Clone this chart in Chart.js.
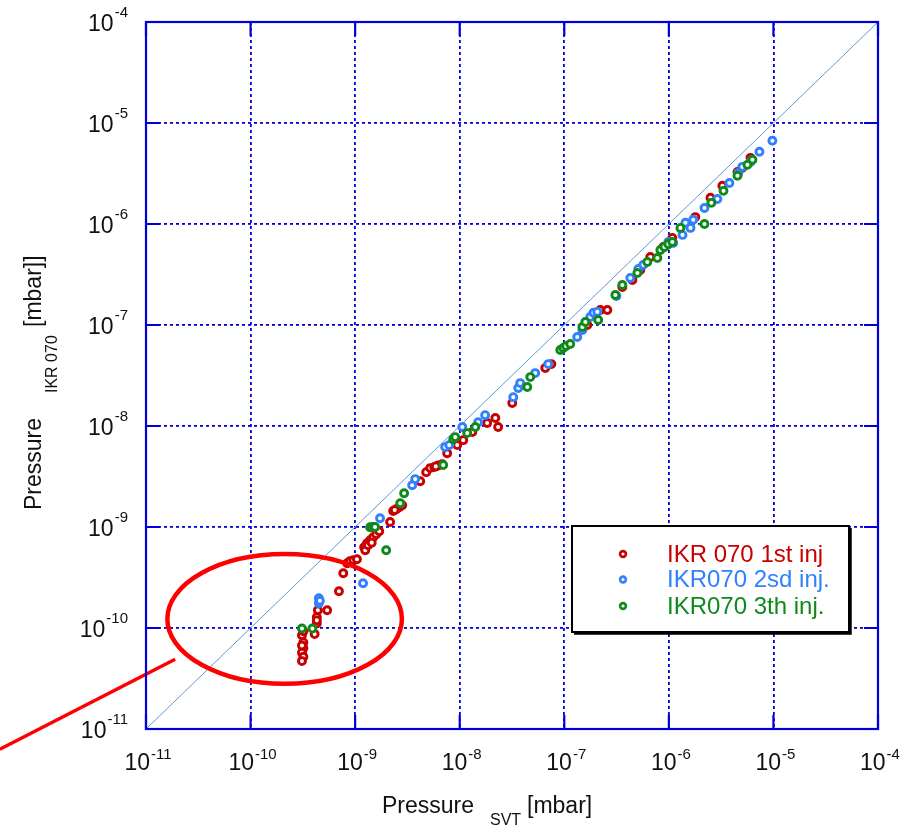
<!DOCTYPE html>
<html>
<head>
<meta charset="utf-8">
<script src="https://cdn.jsdelivr.net/npm/chart.js@4/dist/chart.umd.min.js"></script>
<style>
  html, body { margin: 0; padding: 0; background: #fff; }
  canvas { display: block; }
</style>
</head>
<body>
<canvas id="chart" width="917" height="826"></canvas>
<script>
// decade ticks on both axes
const decades = [1e-11, 1e-10, 1e-9, 1e-8, 1e-7, 1e-6, 1e-5, 1e-4];
const tickExponents = ['-11', '-10', '-9', '-8', '-7', '-6', '-5', '-4'];

// IKR 070 1st inj
const inj1X = [3.1e-10, 3.2e-10, 3.2e-10, 3.1e-10, 3.2e-10, 3.1e-10, 4.1e-10, 4.3e-10, 4.3e-10, 4.4e-10,
  5.4e-10, 7.0e-10, 7.7e-10, 8.4e-10, 8.9e-10, 9.6e-10, 1.04e-9, 1.22e-9, 1.25e-9, 1.30e-9,
  1.39e-9, 1.49e-9, 1.59e-9, 1.70e-9, 2.16e-9, 2.31e-9, 2.47e-9, 2.64e-9, 2.82e-9, 4.19e-9,
  4.78e-9, 5.22e-9, 5.70e-9, 6.22e-9, 6.80e-9, 7.59e-9, 9.46e-9, 1.08e-8, 1.32e-8, 1.83e-8,
  2.19e-8, 2.33e-8, 3.18e-8, 6.58e-8, 7.52e-8, 1.66e-7, 2.21e-7, 2.58e-7, 3.59e-7, 4.48e-7,
  5.33e-7, 6.65e-7, 8.85e-7, 1.08e-6, 1.79e-6, 2.50e-6, 3.25e-6, 4.53e-6, 5.05e-6, 6.03e-6,
  3.2e-10, 3.1e-10, 1.33e-9, 1.44e-9, 2.39e-9, 5.9e-9, 4.3e-10];
const inj1Y = [8.5e-11, 7.2e-11, 6.3e-11, 5.7e-11, 5.2e-11, 4.7e-11, 8.7e-11, 1.11e-10, 1.28e-10, 1.50e-10,
  1.50e-10, 2.31e-10, 3.48e-10, 4.38e-10, 4.58e-10, 4.69e-10, 4.80e-10, 6.31e-10, 5.89e-10, 6.90e-10,
  7.40e-10, 7.93e-10, 8.49e-10, 9.08e-10, 1.12e-9, 1.44e-9, 1.50e-9, 1.57e-9, 1.64e-9, 2.84e-9,
  3.49e-9, 3.83e-9, 3.92e-9, 4.06e-9, 4.19e-9, 5.38e-9, 6.47e-9, 7.24e-9, 8.71e-9, 1.07e-8,
  1.20e-8, 9.76e-9, 1.69e-8, 3.75e-8, 4.10e-8, 1.00e-7, 1.41e-7, 1.41e-7, 2.38e-7, 2.79e-7,
  3.51e-7, 4.72e-7, 5.93e-7, 7.28e-7, 1.17e-6, 1.82e-6, 2.39e-6, 3.28e-6, 3.60e-6, 4.52e-6,
  9.3e-11, 6.7e-11, 6.6e-10, 7.0e-10, 1.47e-9, 3.98e-9, 1.19e-10];

// IKR070 2sd inj.
const inj2X = [4.5e-10, 4.5e-10, 4.6e-10, 1.19e-9, 1.73e-9, 3.51e-9, 3.75e-9, 7.26e-9, 7.94e-9, 1.06e-8,
  1.50e-8, 1.75e-8, 3.25e-8, 3.63e-8, 3.79e-8, 5.27e-8, 7.03e-8, 1.33e-7, 1.49e-7, 1.77e-7,
  1.90e-7, 2.07e-7, 3.15e-7, 4.28e-7, 5.11e-7, 5.70e-7, 9.68e-7, 9.89e-7, 1.10e-6, 1.35e-6,
  1.44e-6, 1.61e-6, 1.71e-6, 2.19e-6, 2.91e-6, 3.79e-6, 4.62e-6, 5.05e-6, 6.03e-6, 7.35e-6, 9.77e-6];
const inj2Y = [1.97e-10, 1.76e-10, 1.86e-10, 2.77e-10, 1.22e-9, 2.59e-9, 2.98e-9, 6.18e-9, 6.47e-9, 9.76e-9,
  1.09e-8, 1.28e-8, 1.93e-8, 2.38e-8, 2.66e-8, 3.34e-8, 4.10e-8, 7.60e-8, 8.91e-8, 1.20e-7,
  1.32e-7, 1.35e-7, 1.94e-7, 2.92e-7, 3.59e-7, 3.94e-7, 6.21e-7, 6.65e-7, 6.50e-7, 7.80e-7,
  1.03e-6, 9.15e-7, 1.10e-6, 1.44e-6, 1.77e-6, 2.55e-6, 3.21e-6, 3.68e-6, 4.12e-6, 5.19e-6, 6.67e-6];

// IKR070 3th inj.
const inj3X = [3.1e-10, 3.9e-10, 1.98e-9, 1.39e-9, 1.47e-9, 1.55e-9, 2.70e-9, 2.94e-9, 6.95e-9, 8.67e-9,
  9.06e-9, 1.18e-8, 1.41e-8, 4.43e-8, 4.73e-8, 9.16e-8, 9.77e-8, 1.04e-7, 1.14e-7, 1.49e-7,
  1.59e-7, 2.11e-7, 3.08e-7, 3.59e-7, 5.00e-7, 6.22e-7, 7.76e-7, 8.30e-7, 9.06e-7, 9.89e-7,
  1.08e-6, 1.29e-6, 2.19e-6, 2.55e-6, 3.33e-6, 4.53e-6, 5.64e-6, 6.30e-6];
const inj3Y = [9.9e-11, 9.9e-11, 5.89e-10, 9.95e-10, 1.0e-9, 1.0e-9, 1.72e-9, 2.16e-9, 4.10e-9, 7.41e-9,
  7.76e-9, 8.51e-9, 9.76e-9, 2.43e-8, 3.05e-8, 5.65e-8, 5.92e-8, 6.19e-8, 6.49e-8, 9.55e-8,
  1.07e-7, 1.12e-7, 1.98e-7, 2.49e-7, 3.27e-7, 4.21e-7, 4.61e-7, 5.53e-7, 5.93e-7, 6.35e-7,
  6.64e-7, 9.15e-7, 1.00e-6, 1.62e-6, 2.13e-6, 3.00e-6, 3.85e-6, 4.32e-6];

// y = x reference line
const diagX = [1e-11, 1e-4];
const diagY = [1e-11, 1e-4];

// red ellipse annotation (data bounds) and pointer line
const ellipseX = [1.6e-11, 2.8e-9];
const ellipseY = [2.8e-11, 5.4e-10];
const pointerX = [4.0e-13, 1.9e-11];
const pointerY = [6.3e-12, 4.9e-11];

const FONT = "'Liberation Sans', Arial, sans-serif";
const AXIS_BLUE = '#0000dd';

const toPoints = (xs, ys) => xs.map((x, i) => ({ x: x, y: ys[i] }));

function series(label, xs, ys, color, order) {
  return {
    label: label,
    data: toPoints(xs, ys),
    borderColor: color,
    backgroundColor: '#ffffff',
    pointRadius: 3.5,
    pointBorderWidth: 2.9,
    pointHoverRadius: 3.5,
    showLine: false,
    order: order
  };
}

// axes box, inward ticks, tick labels with superscripts, titles, legend
const framePlugin = {
  id: 'frame',
  afterDraw(chart) {
    const ctx = chart.ctx;
    const area = chart.chartArea;
    const xs = chart.scales.x, ys = chart.scales.y;
    ctx.save();

    // red ellipse + pointer
    const ex0 = xs.getPixelForValue(ellipseX[0]), ex1 = xs.getPixelForValue(ellipseX[1]);
    const ey0 = ys.getPixelForValue(ellipseY[1]), ey1 = ys.getPixelForValue(ellipseY[0]);
    ctx.strokeStyle = '#ff0000';
    ctx.lineWidth = 4.5;
    ctx.beginPath();
    ctx.ellipse((ex0 + ex1) / 2, (ey0 + ey1) / 2, (ex1 - ex0) / 2, (ey1 - ey0) / 2, 0, 0, Math.PI * 2);
    ctx.stroke();
    ctx.lineWidth = 3.5;
    ctx.beginPath();
    ctx.moveTo(xs.getPixelForValue(pointerX[0]), ys.getPixelForValue(pointerY[0]));
    ctx.lineTo(xs.getPixelForValue(pointerX[1]), ys.getPixelForValue(pointerY[1]));
    ctx.stroke();

    // box
    ctx.strokeStyle = AXIS_BLUE;
    ctx.lineWidth = 2.2;
    ctx.strokeRect(area.left, area.top, area.right - area.left, area.bottom - area.top);

    // inward ticks
    const tl = 14;
    ctx.beginPath();
    decades.forEach(v => {
      const px = xs.getPixelForValue(v);
      const py = ys.getPixelForValue(v);
      ctx.moveTo(px, area.bottom); ctx.lineTo(px, area.bottom - tl);
      ctx.moveTo(px, area.top); ctx.lineTo(px, area.top + tl);
      ctx.moveTo(area.left, py); ctx.lineTo(area.left + tl, py);
      ctx.moveTo(area.right, py); ctx.lineTo(area.right - tl, py);
    });
    ctx.stroke();

    // tick labels
    ctx.fillStyle = '#111';
    ctx.textBaseline = 'alphabetic';
    const bigFont = '23px ' + FONT, supFont = '15px ' + FONT;
    decades.forEach((v, i) => {
      const exp = tickExponents[i];
      ctx.font = bigFont;
      const wBase = ctx.measureText('10').width;
      ctx.font = supFont;
      const wExp = ctx.measureText(exp).width;

      // y axis: right aligned at x=128
      const py = ys.getPixelForValue(v);
      ctx.textAlign = 'left';
      ctx.font = bigFont;
      ctx.fillText('10', 128 - wExp - wBase - 1, py + 8.5);
      ctx.font = supFont;
      ctx.fillText(exp, 128 - wExp, py - 5);

      // x axis: whole label centred
      const px = xs.getPixelForValue(v);
      const total = wBase + 1 + wExp;
      const x0 = px - total / 2 + 2;
      ctx.font = bigFont;
      ctx.fillText('10', x0, 770);
      ctx.font = supFont;
      ctx.fillText(exp, x0 + wBase + 1, 759);
    });

    // x title
    ctx.fillStyle = '#111';
    ctx.textAlign = 'left';
    ctx.font = '23px ' + FONT;
    ctx.fillText('Pressure', 382, 813);
    ctx.font = '16px ' + FONT;
    ctx.fillText('SVT', 490, 825);
    ctx.font = '23px ' + FONT;
    ctx.fillText('[mbar]', 527, 813);

    // y title (rotated)
    ctx.save();
    ctx.translate(41, 510);
    ctx.rotate(-Math.PI / 2);
    ctx.font = '23px ' + FONT;
    ctx.fillText('Pressure', 0, 0);
    ctx.font = '16px ' + FONT;
    ctx.fillText('IKR 070', 117, 16);
    ctx.font = '23px ' + FONT;
    ctx.fillText('[mbar]]', 183, 0);
    ctx.restore();

    // legend box
    const lx = 572, ly = 526, lw = 277, lh = 106;
    ctx.fillStyle = '#ffffff';
    ctx.fillRect(lx, ly, lw, lh);
    ctx.strokeStyle = '#000';
    ctx.lineWidth = 2;
    ctx.strokeRect(lx, ly, lw, lh);
    ctx.lineWidth = 2.5;
    ctx.beginPath();
    ctx.moveTo(lx + lw + 1.5, ly + 2);
    ctx.lineTo(lx + lw + 1.5, ly + lh + 1.5);
    ctx.lineTo(lx + 2, ly + lh + 1.5);
    ctx.stroke();

    const rows = [554, 579.5, 606];
    const legendSets = chart.data.datasets.filter(d => d.label);
    ctx.font = '24px ' + FONT;
    ctx.textBaseline = 'middle';
    legendSets.forEach((d, i) => {
      ctx.strokeStyle = d.borderColor;
      ctx.fillStyle = '#fff';
      ctx.lineWidth = 2.6;
      ctx.beginPath();
      ctx.arc(623, rows[i], 2.9, 0, Math.PI * 2);
      ctx.fill();
      ctx.stroke();
      ctx.fillStyle = d.borderColor;
      ctx.fillText(d.label, 667, rows[i] + 1);
    });

    ctx.restore();
  }
};

const logAxis = (pos) => ({
  type: 'logarithmic',
  position: pos,
  min: 1e-11,
  max: 1e-4,
  afterBuildTicks: (axis) => { axis.ticks = decades.map(v => ({ value: v })); },
  ticks: { display: false },
  grid: { color: AXIS_BLUE, lineWidth: 1.8, drawTicks: false },
  border: { display: false, dash: [3, 3] },
  title: { display: false }
});

new Chart(document.getElementById('chart'), {
  type: 'scatter',
  data: {
    datasets: [
      series('IKR 070 1st inj', inj1X, inj1Y, '#c80000', 3),
      series('IKR070 2sd inj.', inj2X, inj2Y, '#3080ff', 2),
      series('IKR070 3th inj.', inj3X, inj3Y, '#0e8a1a', 1),
      {
        label: '',
        data: toPoints(diagX, diagY),
        showLine: true,
        borderColor: '#5b9bd5',
        borderWidth: 1,
        pointRadius: 0,
        order: 10
      }
    ]
  },
  options: {
    responsive: false,
    animation: false,
    devicePixelRatio: 1,
    layout: { padding: { left: 146, top: 22, right: 39, bottom: 97 } },
    scales: { x: logAxis('bottom'), y: logAxis('left') },
    plugins: { legend: { display: false }, tooltip: { enabled: false } }
  },
  plugins: [framePlugin]
});
</script>
</body>
</html>
